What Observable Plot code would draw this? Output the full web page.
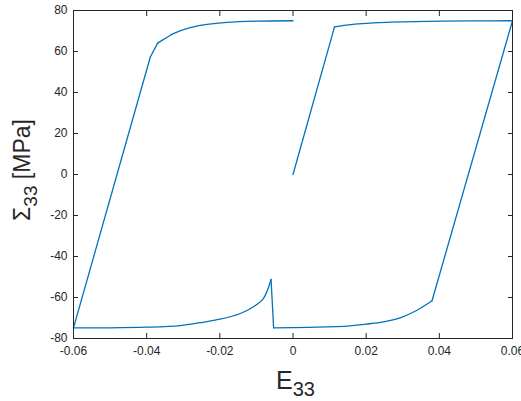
<!DOCTYPE html>
<html><head><meta charset="utf-8">
<script src="https://cdn.jsdelivr.net/npm/d3@7"></script>
<script src="https://cdn.jsdelivr.net/npm/@observablehq/plot@0.6"></script>
<style>body{margin:0;background:#fff} svg{display:block}</style>
</head><body><div id="chart"></div>
<script>
// Strain E33 and stress Σ33 (MPa), in drawing order
const strain = [
  0, 0.01135, 0.0145, 0.0179, 0.022, 0.027, 0.033, 0.0407, 0.05, 0.06,
  0.038, 0.0339, 0.0293, 0.0247, 0.02, 0.0156, 0.0065, -0.0053,
  -0.006, -0.0081, -0.0108, -0.0144, -0.0199, -0.0254, -0.0308, -0.04, -0.05, -0.06,
  -0.039, -0.037, -0.0345, -0.0327, -0.0281, -0.0235, -0.0181, -0.0099, 0
];
const stress = [
  0, 72.0, 72.9, 73.5, 74.0, 74.3, 74.6, 74.8, 74.95, 75.0,
  -61.6, -66.2, -69.9, -71.9, -73.0, -73.8, -74.5, -74.8,
  -51.2, -60.5, -64.5, -67.8, -70.6, -72.3, -73.7, -74.5, -74.8, -74.8,
  57.3, 64.1, 66.8, 68.7, 71.6, 73.2, 74.2, 74.8, 75.0
];
// indices of points where the curve has a corner
const corners = [0, 1, 9, 10, 17, 18, 27, 28, 29, 36];
const xTicks = [-0.06, -0.04, -0.02, 0, 0.02, 0.04, 0.06];
const xTickLabels = ["-0.06", "-0.04", "-0.02", "0", "0.02", "0.04", "0.06"];
const yTicks = [-80, -60, -40, -20, 0, 20, 40, 60, 80];
const yTickLabels = ["-80", "-60", "-40", "-20", "0", "20", "40", "60", "80"];
const xLabelMain = "E", xLabelSub = "33";
const yLabelMain = "\u03A3", yLabelSub = "33", yLabelUnit = " [MPa]";

// split the path into smooth pieces between corners
const pts = [];
for (let k = 0; k < corners.length - 1; k++) {
  for (let i = corners[k]; i <= corners[k + 1]; i++) {
    pts.push({x: strain[i], y: stress[i], piece: k});
  }
}
const ink = "#262626";
const font = "'Liberation Sans', Arial, Helvetica, sans-serif";

const plot = Plot.plot({
  width: 521, height: 401,
  marginLeft: 73, marginRight: 9, marginTop: 10, marginBottom: 63,
  style: {fontFamily: font, fontSize: "12px", color: ink, background: "#fff"},
  x: {domain: [-0.06, 0.06], label: null},
  y: {domain: [-80, 80], label: null},
  marks: [
    Plot.line(pts, {x: "x", y: "y", z: "piece", curve: "catmull-rom", stroke: "#0072BD", strokeWidth: 1.3, strokeLinejoin: "miter"}),
    Plot.frame({stroke: ink, strokeWidth: 1}),
    Plot.axisX(xTicks, {anchor: "bottom", tickSize: -5, tickFormat: () => "", label: null}),
    Plot.axisX(xTicks, {anchor: "top", tickSize: -5, tickFormat: () => "", label: null}),
    Plot.axisY(yTicks, {anchor: "left", tickSize: -5, tickFormat: () => "", label: null}),
    Plot.axisY(yTicks, {anchor: "right", tickSize: -5, tickFormat: () => "", label: null}),
    Plot.axisX(xTicks, {anchor: "bottom", tickSize: 0, tickPadding: 8, tickFormat: (d) => xTickLabels[xTicks.indexOf(d)], label: null}),
    Plot.axisY(yTicks, {anchor: "left", tickSize: 0, tickPadding: 6, tickFormat: (d) => yTickLabels[yTicks.indexOf(d)], label: null})
  ]
});

const svg = d3.select(plot);
const xs = plot.scale("x"), ys = plot.scale("y");
const cx = (xs.range[0] + xs.range[1]) / 2;
const cy = (ys.range[0] + ys.range[1]) / 2;

const xl = svg.append("text")
  .attr("x", cx + 3).attr("y", 389)
  .attr("text-anchor", "middle")
  .attr("fill", ink).style("font-family", font).style("font-size", "25px");
xl.append("tspan").text(xLabelMain);
xl.append("tspan").attr("dy", 7).style("font-size", "20px").text(xLabelSub);

const yl = svg.append("text")
  .attr("transform", `translate(30,${cy - 4}) rotate(-90)`)
  .attr("text-anchor", "middle")
  .attr("fill", ink).style("font-family", font).style("font-size", "23px");
yl.append("tspan").text(yLabelMain);
yl.append("tspan").attr("dy", 7).style("font-size", "19px").text(yLabelSub);
yl.append("tspan").attr("dy", -7).text(yLabelUnit);

document.getElementById("chart").appendChild(plot);
</script>
</body></html>
